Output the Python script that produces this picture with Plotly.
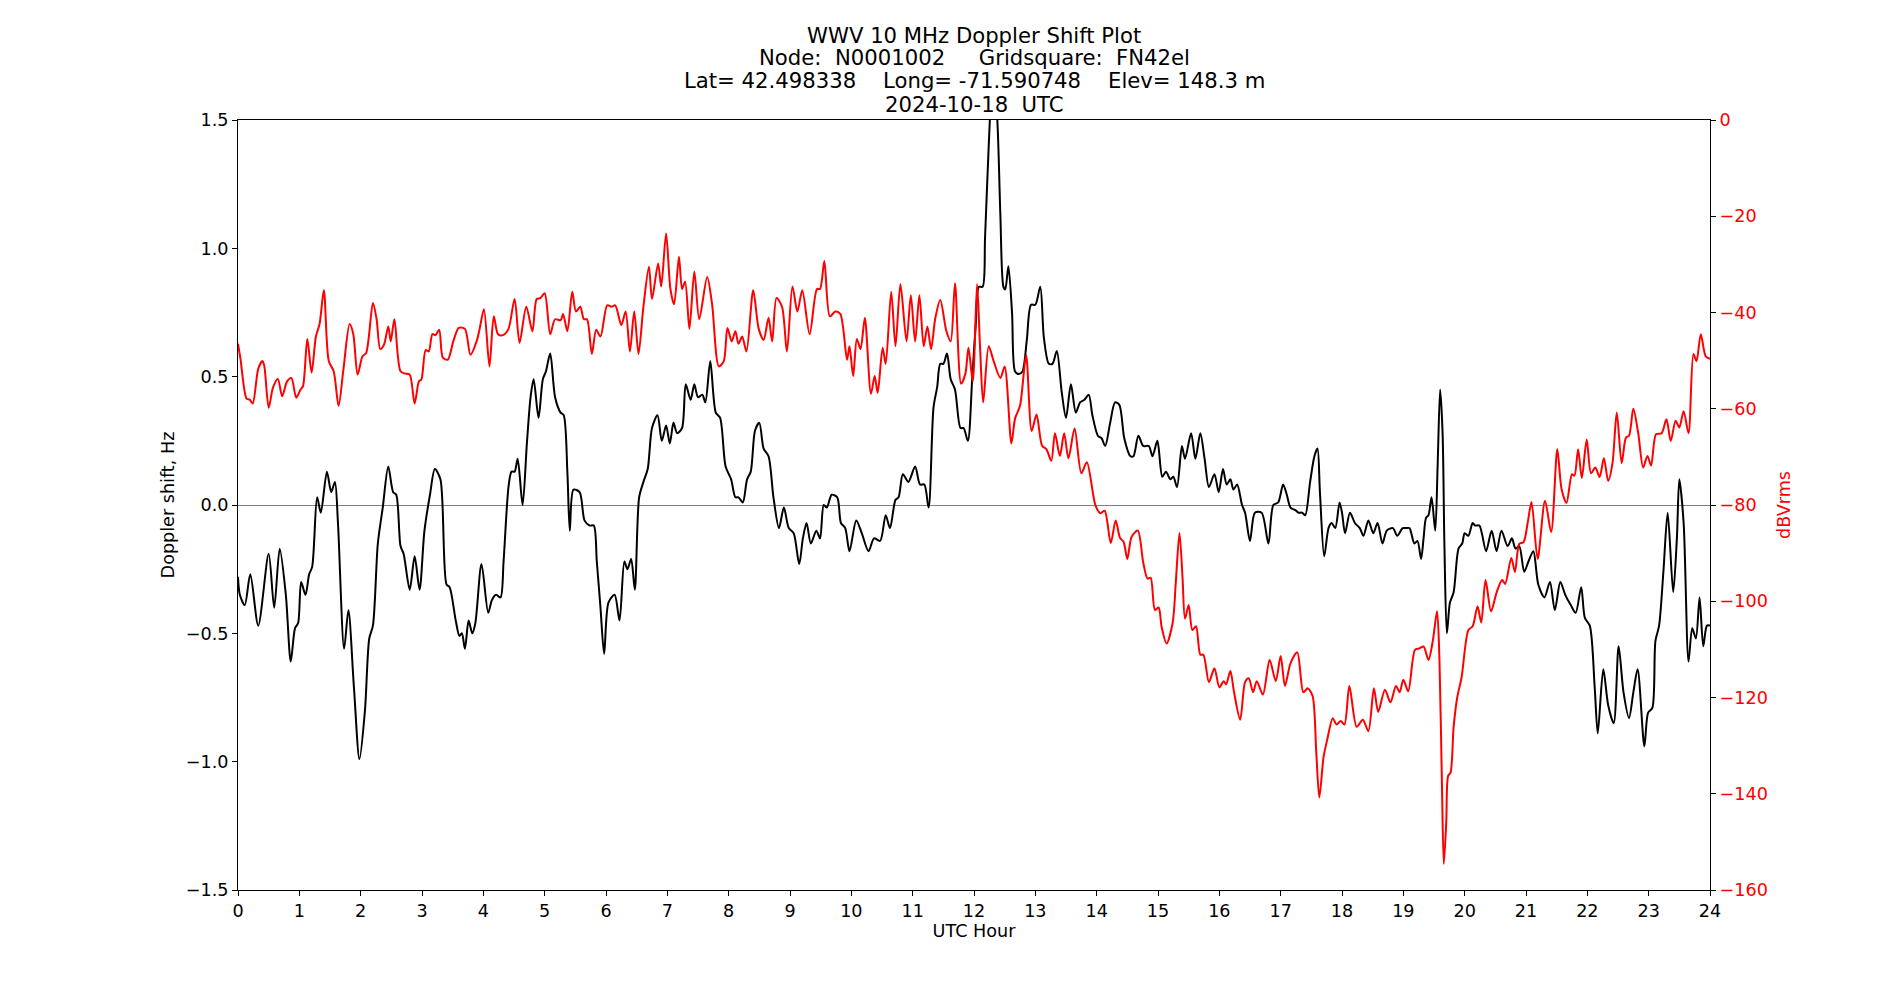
import plotly.graph_objects as go

# ---- Doppler shift (black, left axis) ----
hours_doppler = [
    0.00, 0.03, 0.11, 0.20, 0.33, 0.50, 0.59, 0.68, 0.78, 0.86, 0.93, 0.98, 1.03, 1.10, 1.16, 1.21,
    1.29, 1.35, 1.45, 1.52, 1.58, 1.63, 1.73, 1.80, 1.89, 1.98, 2.07, 2.14, 2.20, 2.28, 2.36, 2.45,
    2.53, 2.58, 2.65, 2.70, 2.80, 2.88, 2.96, 3.04, 3.13, 3.21, 3.30, 3.40, 3.45, 3.55, 3.61, 3.65,
    3.70, 3.76, 3.82, 3.87, 3.97, 4.08, 4.14, 4.21, 4.28, 4.33, 4.41, 4.46, 4.51, 4.56, 4.64, 4.71,
    4.77, 4.82, 4.90, 4.97, 5.02, 5.09, 5.17, 5.26, 5.31, 5.37, 5.41, 5.47, 5.57, 5.65, 5.73, 5.80,
    5.85, 5.91, 5.97, 6.04, 6.14, 6.22, 6.30, 6.35, 6.41, 6.47, 6.54, 6.61, 6.68, 6.75, 6.84, 6.91,
    6.98, 7.04, 7.10, 7.16, 7.24, 7.30, 7.38, 7.44, 7.50, 7.57, 7.62, 7.70, 7.79, 7.86, 7.95, 8.04,
    8.11, 8.16, 8.23, 8.30, 8.36, 8.43, 8.50, 8.57, 8.65, 8.73, 8.82, 8.90, 8.98, 9.06, 9.15, 9.21,
    9.27, 9.34, 9.43, 9.49, 9.55, 9.60, 9.68, 9.77, 9.83, 9.90, 9.97, 10.08, 10.17, 10.28, 10.37, 10.47,
    10.56, 10.63, 10.72, 10.77, 10.84, 10.93, 11.04, 11.12, 11.19, 11.26, 11.34, 11.40, 11.45, 11.50, 11.56, 11.62,
    11.69, 11.78, 11.83, 11.90, 11.97, 12.03, 12.08, 12.14, 12.18, 12.24, 12.31, 12.38, 12.43, 12.48, 12.51, 12.56,
    12.62, 12.67, 12.73, 12.79, 12.86, 12.93, 13.00, 13.08, 13.14, 13.22, 13.28, 13.35, 13.43, 13.50, 13.58, 13.66,
    13.73, 13.80, 13.87, 13.93, 14.02, 14.08, 14.14, 14.22, 14.30, 14.37, 14.45, 14.55, 14.60, 14.68, 14.76, 14.85,
    14.91, 14.99, 15.07, 15.13, 15.20, 15.25, 15.31, 15.39, 15.44, 15.54, 15.61, 15.69, 15.76, 15.83, 15.92, 15.99,
    16.06, 16.12, 16.18, 16.23, 16.29, 16.37, 16.42, 16.50, 16.58, 16.69, 16.80, 16.88, 16.96, 17.04, 17.10, 17.16,
    17.24, 17.29, 17.35, 17.40, 17.48, 17.55, 17.60, 17.64, 17.71, 17.78, 17.83, 17.89, 17.96, 18.00, 18.05, 18.13,
    18.21, 18.29, 18.35, 18.43, 18.51, 18.58, 18.66, 18.73, 18.83, 18.90, 18.99, 19.05, 19.10, 19.18, 19.23, 19.29,
    19.33, 19.37, 19.41, 19.46, 19.52, 19.56, 19.60, 19.64, 19.67, 19.71, 19.76, 19.82, 19.90, 19.96, 20.00, 20.06,
    20.13, 20.17, 20.24, 20.28, 20.35, 20.44, 20.52, 20.60, 20.70, 20.77, 20.83, 20.89, 20.97, 21.04, 21.12, 21.20,
    21.30, 21.39, 21.47, 21.56, 21.64, 21.73, 21.81, 21.90, 21.96, 22.04, 22.12, 22.17, 22.26, 22.34, 22.43, 22.51,
    22.59, 22.68, 22.75, 22.82, 22.93, 22.99, 23.06, 23.11, 23.17, 23.24, 23.31, 23.40, 23.46, 23.50, 23.57, 23.65,
    23.71, 23.77, 23.83, 23.89, 23.95, 24.00,
]
doppler_hz = [
    -0.28, -0.35, -0.39, -0.27, -0.47, -0.19, -0.40, -0.17, -0.35, -0.61, -0.48, -0.46, -0.30, -0.35, -0.27, -0.24,
    0.03, -0.03, 0.13, 0.05, 0.09, -0.07, -0.56, -0.41, -0.71, -0.99, -0.80, -0.52, -0.47, -0.15, -0.01, 0.15,
    0.05, 0.04, -0.16, -0.19, -0.33, -0.20, -0.33, -0.10, 0.04, 0.14, 0.10, -0.31, -0.32, -0.45, -0.51, -0.50,
    -0.56, -0.45, -0.50, -0.46, -0.23, -0.42, -0.37, -0.35, -0.36, -0.22, 0.07, 0.13, 0.13, 0.18, 0.00, 0.24,
    0.42, 0.49, 0.34, 0.49, 0.52, 0.59, 0.42, 0.36, 0.35, 0.13, -0.10, 0.06, 0.05, -0.06, -0.08, -0.08,
    -0.22, -0.40, -0.58, -0.38, -0.35, -0.45, -0.22, -0.25, -0.21, -0.33, 0.03, 0.09, 0.14, 0.30, 0.35, 0.25,
    0.31, 0.24, 0.32, 0.28, 0.30, 0.47, 0.41, 0.47, 0.42, 0.43, 0.40, 0.56, 0.36, 0.34, 0.15, 0.10,
    0.03, 0.03, 0.01, 0.10, 0.13, 0.29, 0.32, 0.22, 0.19, 0.03, -0.09, -0.01, -0.09, -0.11, -0.23, -0.13,
    -0.07, -0.15, -0.10, -0.13, 0.00, -0.01, 0.04, 0.03, -0.07, -0.09, -0.18, -0.06, -0.11, -0.18, -0.13, -0.14,
    -0.04, -0.09, 0.02, 0.03, 0.12, 0.09, 0.15, 0.08, 0.08, -0.01, 0.38, 0.46, 0.55, 0.55, 0.59, 0.49,
    0.45, 0.30, 0.30, 0.25, 0.49, 0.71, 0.85, 0.85, 1.04, 1.40, 1.70, 1.50, 1.13, 0.85, 0.84, 0.93,
    0.75, 0.52, 0.51, 0.52, 0.64, 0.78, 0.78, 0.85, 0.65, 0.55, 0.55, 0.60, 0.44, 0.34, 0.47, 0.36,
    0.40, 0.41, 0.43, 0.35, 0.27, 0.26, 0.23, 0.32, 0.40, 0.39, 0.26, 0.19, 0.19, 0.27, 0.23, 0.23,
    0.19, 0.25, 0.11, 0.13, 0.10, 0.11, 0.07, 0.23, 0.18, 0.28, 0.18, 0.28, 0.18, 0.07, 0.12, 0.05,
    0.14, 0.08, 0.10, 0.06, 0.08, 0.00, -0.03, -0.14, -0.03, -0.03, -0.15, 0.00, 0.01, 0.08, 0.04, -0.01,
    -0.02, -0.03, -0.03, -0.04, 0.09, 0.19, 0.22, 0.05, -0.20, -0.09, -0.07, -0.09, 0.01, -0.03, -0.11, -0.03,
    -0.07, -0.09, -0.12, -0.06, -0.11, -0.07, -0.15, -0.10, -0.09, -0.12, -0.09, -0.09, -0.09, -0.15, -0.14, -0.21,
    -0.13, -0.05, -0.04, 0.03, -0.10, 0.16, 0.45, 0.28, -0.16, -0.50, -0.38, -0.34, -0.17, -0.15, -0.11, -0.12,
    -0.07, -0.08, -0.08, -0.11, -0.18, -0.10, -0.18, -0.10, -0.16, -0.13, -0.17, -0.16, -0.26, -0.22, -0.18, -0.31,
    -0.36, -0.30, -0.41, -0.30, -0.35, -0.39, -0.42, -0.32, -0.44, -0.47, -0.71, -0.89, -0.64, -0.78, -0.85, -0.55,
    -0.73, -0.83, -0.73, -0.64, -0.94, -0.81, -0.79, -0.53, -0.47, -0.26, -0.03, -0.34, -0.13, 0.10, -0.07, -0.61,
    -0.48, -0.52, -0.36, -0.55, -0.47, -0.47,
]

# ---- Signal level (red, right axis) ----
hours_power = [
    0.00, 0.04, 0.14, 0.19, 0.24, 0.33, 0.40, 0.43, 0.50, 0.57, 0.65, 0.72, 0.80, 0.87, 0.95, 1.02,
    1.06, 1.13, 1.20, 1.27, 1.33, 1.40, 1.48, 1.56, 1.64, 1.72, 1.82, 1.88, 1.95, 2.03, 2.09, 2.20,
    2.26, 2.32, 2.38, 2.45, 2.49, 2.55, 2.65, 2.73, 2.80, 2.88, 2.95, 2.99, 3.06, 3.11, 3.17, 3.22,
    3.28, 3.34, 3.42, 3.51, 3.60, 3.70, 3.79, 3.89, 3.94, 4.01, 4.10, 4.17, 4.24, 4.32, 4.41, 4.51,
    4.59, 4.70, 4.80, 4.87, 4.93, 5.00, 5.09, 5.17, 5.26, 5.30, 5.37, 5.45, 5.51, 5.58, 5.64, 5.69,
    5.77, 5.84, 5.91, 6.02, 6.09, 6.15, 6.25, 6.32, 6.39, 6.46, 6.53, 6.61, 6.70, 6.75, 6.85, 6.90,
    6.98, 7.05, 7.11, 7.19, 7.24, 7.29, 7.36, 7.44, 7.52, 7.65, 7.73, 7.84, 7.92, 7.98, 8.05, 8.11,
    8.16, 8.22, 8.29, 8.40, 8.49, 8.57, 8.65, 8.71, 8.78, 8.87, 8.95, 9.04, 9.12, 9.20, 9.32, 9.44,
    9.49, 9.56, 9.65, 9.74, 9.82, 9.93, 9.97, 10.03, 10.09, 10.15, 10.22, 10.32, 10.38, 10.43, 10.51, 10.56,
    10.65, 10.72, 10.80, 10.90, 10.97, 11.04, 11.11, 11.18, 11.24, 11.30, 11.37, 11.45, 11.55, 11.62, 11.69, 11.79,
    11.86, 11.91, 11.98, 12.05, 12.10, 12.15, 12.24, 12.32, 12.43, 12.50, 12.61, 12.67, 12.75, 12.85, 12.94, 13.02,
    13.11, 13.18, 13.26, 13.32, 13.40, 13.47, 13.54, 13.64, 13.75, 13.84, 13.98, 14.06, 14.13, 14.23, 14.31, 14.38,
    14.44, 14.50, 14.57, 14.67, 14.76, 14.83, 14.88, 14.95, 15.01, 15.06, 15.14, 15.24, 15.29, 15.35, 15.40, 15.44,
    15.50, 15.56, 15.62, 15.69, 15.74, 15.83, 15.92, 16.00, 16.07, 16.11, 16.18, 16.24, 16.34, 16.42, 16.48, 16.55,
    16.61, 16.71, 16.82, 16.92, 17.00, 17.07, 17.16, 17.27, 17.37, 17.44, 17.52, 17.58, 17.63, 17.70, 17.76, 17.85,
    17.91, 17.98, 18.04, 18.12, 18.24, 18.34, 18.43, 18.52, 18.59, 18.70, 18.79, 18.88, 18.94, 19.00, 19.08, 19.19,
    19.26, 19.33, 19.41, 19.48, 19.55, 19.59, 19.63, 19.66, 19.70, 19.73, 19.77, 19.82, 19.88, 19.95, 20.06, 20.13,
    20.21, 20.27, 20.34, 20.43, 20.52, 20.61, 20.66, 20.76, 20.82, 20.89, 20.96, 21.03, 21.09, 21.19, 21.31, 21.41,
    21.51, 21.58, 21.66, 21.75, 21.79, 21.85, 21.91, 21.99, 22.06, 22.13, 22.20, 22.27, 22.34, 22.41, 22.48, 22.56,
    22.63, 22.68, 22.75, 22.83, 22.91, 22.98, 23.04, 23.12, 23.21, 23.29, 23.36, 23.44, 23.50, 23.57, 23.65, 23.73,
    23.78, 23.85, 23.93, 24.00,
]
power_dbv = [
    -46.5, -49.6, -57.9, -58.1, -58.9, -51.7, -50.1, -51.2, -59.8, -55.6, -53.8, -57.4, -54.3, -53.6, -57.7, -56.0,
    -55.3, -45.5, -52.5, -45.0, -42.4, -35.4, -50.1, -52.2, -59.4, -51.7, -42.4, -44.5, -52.9, -49.1, -48.4, -38.0,
    -41.4, -47.6, -46.7, -42.9, -46.0, -41.4, -52.2, -52.7, -52.9, -58.9, -54.3, -53.9, -47.8, -48.1, -44.5, -44.7,
    -43.6, -49.4, -49.8, -46.0, -43.2, -43.4, -48.8, -46.0, -43.4, -39.3, -51.2, -40.8, -44.5, -44.7, -43.4, -37.2,
    -46.3, -38.8, -43.9, -37.2, -37.0, -36.0, -44.5, -41.4, -41.6, -40.3, -43.9, -35.7, -39.8, -38.8, -41.4, -41.4,
    -48.6, -43.6, -45.0, -38.5, -38.8, -38.5, -42.6, -39.8, -48.1, -39.8, -48.6, -38.8, -30.5, -37.2, -29.8, -34.6,
    -23.6, -35.1, -38.3, -28.4, -35.1, -33.6, -43.4, -31.5, -41.4, -32.6, -38.3, -51.2, -50.1, -43.2, -46.0, -43.9,
    -46.5, -45.0, -48.1, -35.4, -43.4, -45.7, -41.1, -46.0, -37.0, -38.8, -48.1, -34.6, -39.8, -35.4, -44.5, -35.1,
    -35.1, -29.3, -40.8, -39.8, -40.3, -49.8, -47.0, -53.2, -45.5, -47.6, -41.1, -56.9, -53.2, -56.7, -47.3, -50.7,
    -35.7, -47.0, -34.1, -46.0, -36.4, -46.0, -36.4, -47.0, -42.9, -47.6, -41.1, -37.4, -43.9, -46.0, -33.9, -54.8,
    -52.7, -47.3, -54.3, -34.1, -47.6, -58.7, -47.0, -50.1, -53.6, -51.2, -67.2, -62.0, -59.4, -48.9, -64.6, -61.2,
    -67.7, -68.4, -70.8, -65.1, -69.8, -65.1, -70.3, -64.1, -73.4, -71.1, -80.1, -81.7, -81.2, -87.9, -83.2, -86.8,
    -87.7, -91.2, -86.6, -85.3, -92.0, -95.3, -95.1, -101.8, -101.3, -105.4, -108.8, -104.4, -96.1, -85.8, -95.1, -103.6,
    -100.8, -106.0, -105.2, -111.1, -111.1, -116.8, -113.9, -117.9, -116.6, -117.3, -114.5, -118.9, -124.6, -116.8, -116.0, -118.9,
    -116.6, -119.4, -112.2, -116.6, -111.4, -117.6, -112.9, -110.6, -118.9, -118.1, -119.7, -131.3, -140.8, -132.3, -128.7, -124.3,
    -125.6, -124.9, -125.6, -117.6, -126.1, -124.6, -127.0, -118.1, -123.0, -118.4, -121.0, -117.6, -118.9, -116.3, -118.7, -110.1,
    -109.8, -109.4, -112.2, -108.3, -102.1, -112.7, -138.5, -154.6, -145.8, -136.3, -135.6, -126.1, -119.9, -115.8, -106.0, -105.2,
    -101.1, -104.4, -95.6, -102.1, -98.2, -95.6, -96.4, -91.0, -93.9, -88.1, -87.7, -83.5, -79.4, -91.2, -79.1, -85.6,
    -68.4, -76.7, -79.6, -73.6, -73.9, -68.4, -74.4, -66.4, -73.4, -72.2, -74.2, -70.3, -75.0, -71.3, -60.8, -71.3,
    -66.0, -65.6, -60.0, -65.1, -72.2, -69.8, -71.8, -65.3, -65.1, -62.2, -66.7, -62.5, -63.9, -60.5, -65.1, -48.6,
    -50.1, -44.5, -49.1, -49.6,
]

hour_ticks = list(range(0, 25))
doppler_ticks = [-1.5, -1.0, -0.5, 0.0, 0.5, 1.0, 1.5]
power_ticks = [0, -20, -40, -60, -80, -100, -120, -140, -160]

title_lines = [
    "WWV 10 MHz Doppler Shift Plot",
    "Node:  N0001002     Gridsquare:  FN42el",
    "Lat= 42.498338    Long= -71.590748    Elev= 148.3 m",
    "2024-10-18  UTC",
]
# vertical offsets (px above plot top) of each title line's centre
title_shifts = [85, 62.5, 40, 16]

FONT = "DejaVu Sans"
TICK_PX = 17.6
TITLE_PX = 21.2

fig = go.Figure()
fig.add_trace(go.Scatter(
    x=hours_doppler, y=doppler_hz, mode="lines", yaxis="y",
    line=dict(color="black", width=2, shape="spline", smoothing=0.8),
    showlegend=False, hoverinfo="skip",
))
fig.add_trace(go.Scatter(
    x=hours_power, y=power_dbv, mode="lines", yaxis="y2",
    line=dict(color="red", width=2, shape="spline", smoothing=0.8),
    showlegend=False, hoverinfo="skip",
))

fig.update_layout(
    width=1900, height=1000,
    margin=dict(l=237.5, r=190, t=120, b=110, pad=0),
    paper_bgcolor="white", plot_bgcolor="white",
    font=dict(family=FONT, size=TICK_PX, color="black"),
    xaxis=dict(
        range=[0, 24], tickvals=hour_ticks, ticktext=[str(h) for h in hour_ticks],
        showgrid=False, zeroline=False, showline=True, linecolor="black", linewidth=1,
        mirror=True, ticks="outside", ticklen=5, tickwidth=1, tickcolor="black",
        tickfont=dict(family=FONT, size=TICK_PX, color="black"),
        title=dict(text="UTC Hour", font=dict(family=FONT, size=TICK_PX, color="black"), standoff=4),
    ),
    yaxis=dict(
        range=[-1.5, 1.5], tickvals=doppler_ticks, tickformat=".1f",
        showgrid=False, zeroline=True, zerolinecolor="#808080", zerolinewidth=1,
        showline=True, linecolor="black", linewidth=1,
        ticks="outside", ticklen=5, tickwidth=1, tickcolor="black",
        tickfont=dict(family=FONT, size=TICK_PX, color="black"),
        title=dict(text="Doppler shift, Hz", font=dict(family=FONT, size=TICK_PX, color="black"), standoff=6),
    ),
    yaxis2=dict(
        range=[-160, 0], tickvals=power_ticks, overlaying="y", side="right",
        showgrid=False, zeroline=False, showline=True, linecolor="black", linewidth=1,
        ticks="outside", ticklen=5, tickwidth=1, tickcolor="black",
        tickfont=dict(family=FONT, size=TICK_PX, color="red"),
        title=dict(text="dBVrms", font=dict(family=FONT, size=TICK_PX, color="red"), standoff=10),
    ),
    annotations=[
        dict(
            text=line, xref="paper", yref="paper", x=0.5, y=1.0,
            xanchor="center", yanchor="middle", yshift=shift, showarrow=False,
            font=dict(family=FONT, size=TITLE_PX, color="black"),
        )
        for line, shift in zip(title_lines, title_shifts)
    ],
)

fig.write_html("out.html")
